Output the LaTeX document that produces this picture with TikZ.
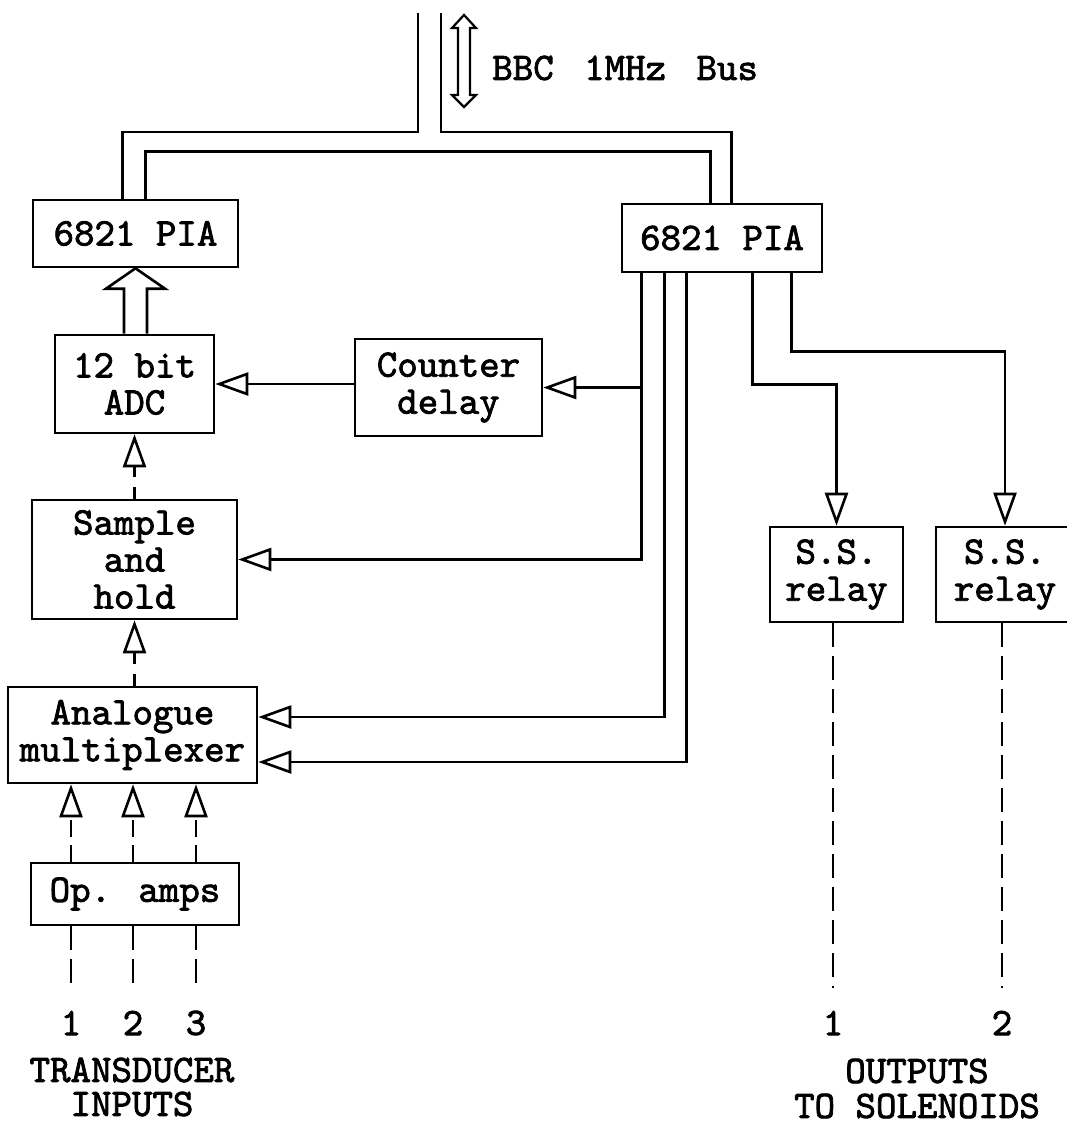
\documentclass[tikz,border=0pt]{standalone}
\usepackage{fontspec}
\usetikzlibrary{arrows.meta,calc}
\newfontfamily\twfont{lmmono10-regular.otf}[FakeBold=2]
\newcommand\boxfont{\twfont\fontsize{19.5}{18.5}\selectfont}
\begin{document}
\begin{tikzpicture}[x=0.5pt,y=-0.5pt,line width=1.3pt,line join=miter,
  box/.style={draw,line width=1.3pt,inner sep=0pt,align=center,font=\boxfont},
  lab/.style={inner sep=0pt,font=\boxfont},
  biglab/.style={inner sep=0pt,font=\twfont\fontsize{19.5}{19.5}\selectfont},
  sig/.style={-{Triangle[open,length=16.5pt,width=11.5pt]}},
  dsh/.style={dash pattern=on 12pt off 4.5pt}]
\useasboundingbox (0,0) rectangle (1066,1124);
% boxes
\node[box,minimum width=102.5pt,minimum height=33.5pt] (pia1) at (135.5,233.5) {6821 PIA};
\node[box,minimum width=100pt,minimum height=34pt] (pia2) at (722,238) {6821 PIA};
\node[box,minimum width=79.5pt,minimum height=49pt] (adc) at (134.5,384) {12 bit\\ADC};
\node[box,minimum width=93.5pt,minimum height=48.5pt] (cnt) at (448.5,387.5) {Counter\\delay};
\node[box,minimum width=102.5pt,minimum height=59.5pt] (sah) at (134.5,559.5) {Sample\\and\\hold};
\node[box,minimum width=124.5pt,minimum height=48pt] (mux) at (132.5,735) {Analogue\\multiplexer};
\node[box,minimum width=104pt,minimum height=31pt] (opa) at (135,894) {Op. amps};
\node[box,minimum width=66.5pt,minimum height=47.5pt] (rel1) at (836.5,574.5) {S.S.\\relay};
\node[box,minimum width=69pt,minimum height=47.5pt] (rel2) at (1005,574.5) {S.S.\\relay};
% labels
\node[lab,anchor=west] (bus) at (491,68) {BBC\hspace{5pt} 1MHz\hspace{5pt} Bus};
\node[lab] (i1) at (71,1023) {1};
\node[lab] (i2) at (133,1023) {2};
\node[lab] (i3) at (196,1023) {3};
\node[biglab] (tin1) at (132,1070) {TRANSDUCER};
\node[biglab] (tin2) at (132,1104) {INPUTS};
\node[lab] (o1) at (833,1023) {1};
\node[lab] (o2) at (1002,1023) {2};
\node[biglab] (tout1) at (917,1071) {OUTPUTS};
\node[biglab] (tout2) at (917,1106) {TO SOLENOIDS};
% bus
\coordinate (bl) at (418,13);
\coordinate (br) at (441,13);
\draw (bl) -- ++(0,119) -| ($(pia1.north west)+(91,0)$);
\draw (br) -- ++(0,119) -| ($(pia2.north west)+(111,0)$);
\draw ($(pia1.north west)+(114,0)$) -- ++(0,-47) -| ($(pia2.north west)+(90,0)$);
\coordinate (da) at (464,15);
\draw[line width=1.1pt] (da) -- ++(12,13) -- ++(-6,0) -- ++(0,67) -- ++(6,0) -- ++(-12,12) -- ++(-12,-12) -- ++(6,0) -- ++(0,-67) -- ++(-6,0) -- cycle;
% fat arrow
\draw ($(adc.north)+(-10.5,0)$) -- ++(0,-45) -- ++(-18,0) -- (pia1.south) -- ($(adc.north)+(30.5,-45)$) -- ++(-18,0) -- ($(adc.north)+(12.5,0)$);
% control lines
\coordinate (p1) at ($(pia2.south west)+(21,0)$);
\draw[sig] (cnt.west |- adc.east) -- (adc.east);
\draw[sig] (p1) |- (sah.east);
\draw[sig] (p1 |- cnt.east) -- (cnt.east);
\draw[sig] ($(pia2.south west)+(44,0)$) |- ($(mux.east)+(0,-18)$);
\draw[sig] ($(pia2.south west)+(66,0)$) |- ($(mux.east)+(0,27)$);
\draw[sig] ($(pia2.south west)+(132,0)$) |- ($(rel1.north)+(0,-141)$) -- (rel1.north);
\draw[sig] ($(pia2.south west)+(171,0)$) |- ($(rel2.north)+(0,-174)$) -- (rel2.north);
% analogue path
\draw[sig,dash pattern=on 6pt off 5pt] (sah.north) -- (adc.south);
\draw[sig,dash pattern=on 6pt off 5pt] (mux.north -| sah.south) -- (sah.south);
\foreach \n in {i1,i2,i3}{
  \draw[sig,dash pattern=on 8.5pt off 4pt] (opa.north -| \n) -- (mux.south -| \n);
  \draw[dsh] (opa.south -| \n) -- ($(\n.center)+(0,-34)$);
}
\draw[dsh] (rel1.south -| o1) -- ($(o1.center)+(0,-35)$);
\draw[dsh] (rel2.south -| o2) -- ($(o2.center)+(0,-35)$);
\end{tikzpicture}
\end{document}
